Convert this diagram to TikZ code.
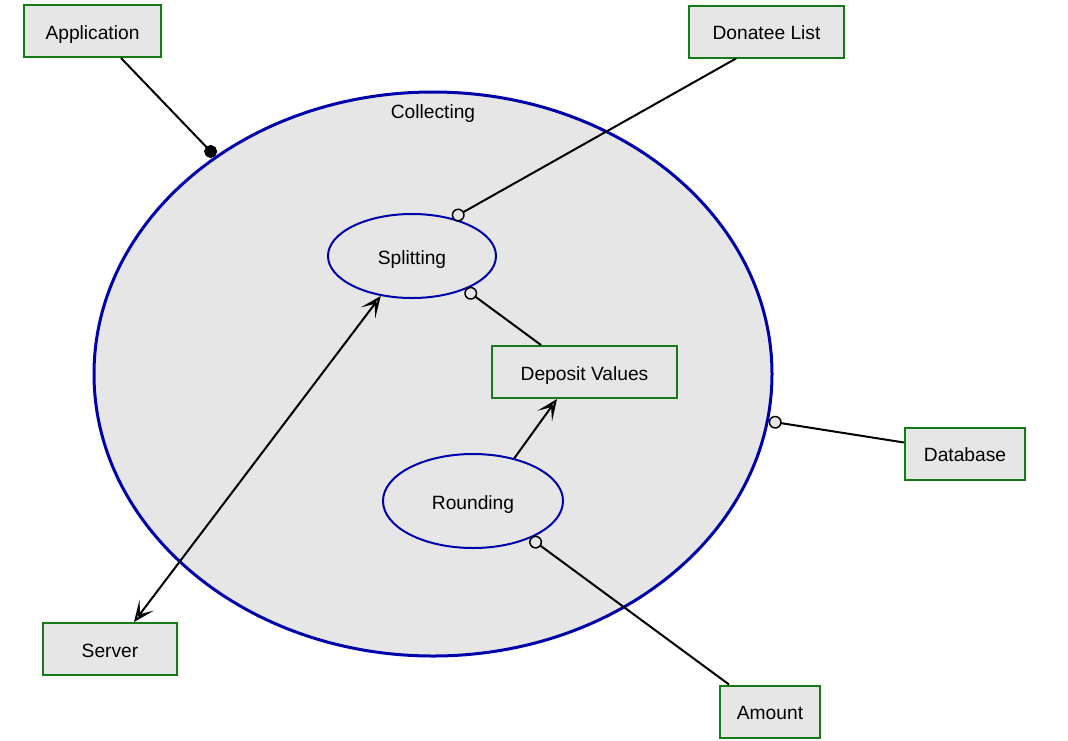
\documentclass[tikz,border=0pt]{standalone}
\usepackage{fontspec}
\setmainfont{Liberation Sans}
\usetikzlibrary{shapes.geometric,arrows.meta}

\definecolor{boxgreen}{HTML}{167A16}
\definecolor{ellblue}{HTML}{0000AA}
\definecolor{fillgray}{HTML}{E6E6E6}

\tikzset{
  flowtip/.tip={Stealth[open,fill=fillgray,length=21pt,width=18pt,inset=11pt,line width=2pt]},
  porttip/.tip={Circle[fill=fillgray,length=13pt,line width=1.5pt]}
}

\begin{document}
\begin{tikzpicture}[x=1pt,y=-1pt,
    every node/.style={font=\fontsize{19.2}{22}\selectfont,text height=16pt,text depth=0pt},
    box/.style={draw=boxgreen,fill=fillgray,line width=2pt,minimum height=52pt,inner sep=0pt},
    task/.style={ellipse,draw=ellblue,fill=fillgray,line width=2pt,inner sep=0pt},
    link/.style={line width=2pt},
    port/.style={-porttip}]
  \useasboundingbox (0,0) rectangle (1068,740);

  \node[task,line width=3pt,minimum width=678pt,minimum height=564pt,
        label={[anchor=north,yshift=-8pt]north:Collecting}] (coll) at (433,374) {};
  \node[task,minimum width=168pt,minimum height=84pt] (split) at (412,256) {Splitting};
  \node[task,minimum width=180pt,minimum height=94pt] (round) at (473,501) {Rounding};
  \node[box,minimum width=185pt] (dep) at (584.5,372) {Deposit Values};

  \node[box,minimum width=137pt] (app) at (92.5,31) {Application};
  \node[box,minimum width=155pt] (don) at (766.5,31.5) {Donatee List};
  \node[box,minimum width=120pt] (db) at (965,453.5) {Database};
  \node[box,minimum width=134pt] (srv) at (110,649) {Server};
  \node[box,minimum width=100pt] (amt) at (770,711.5) {Amount};

  %ports
  \draw[link,-{Circle[length=13pt]}] ([xshift=98pt]app.south west) -- (coll.135);
  \draw[link,port] ([xshift=48pt]don.south west) -- (split.43);
  \draw[link,port] ([xshift=50pt]dep.north west) -- (split.-32);
  \draw[link,port] ([yshift=-16pt]db.north west) -- (coll.-8);
  \draw[link,port] ([xshift=10pt]amt.north west) -- (round.-33.5);

  %flows
  \draw[link,-flowtip] (round.46) -- ([xshift=66pt]dep.south west);
  \draw[link,flowtip-flowtip] ([xshift=92pt]srv.north west) -- (split.232);
\end{tikzpicture}
\end{document}
